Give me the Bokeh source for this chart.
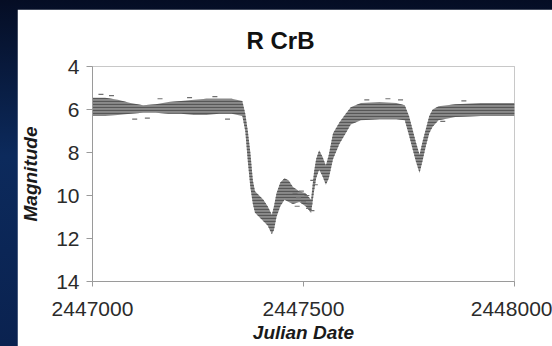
from bokeh.plotting import figure
from bokeh.models import Range1d, FixedTicker, ColumnDataSource
from bokeh.layouts import column
from bokeh.embed import file_html
from bokeh.resources import INLINE

# ---- data ----
title_text = "R CrB"
x_label = "Julian Date"
y_label = "Magnitude"
x_ticks = [2447000, 2447500, 2448000]
x_tick_labels = ["2447000", "2447500", "2448000"]
y_ticks = [4, 6, 8, 10, 12, 14]

# Julian date and bright / faint edge of the band of observations
jd = [2447000, 2447030, 2447060, 2447090, 2447120, 2447150, 2447180, 2447210,
      2447240, 2447270, 2447300, 2447330, 2447355, 2447362, 2447368, 2447374,
      2447380, 2447385, 2447395, 2447405, 2447415, 2447425, 2447430, 2447436,
      2447445, 2447455, 2447465, 2447475, 2447490, 2447505, 2447518, 2447525,
      2447530, 2447537, 2447545, 2447553, 2447560, 2447570, 2447585, 2447600,
      2447612, 2447636, 2447680, 2447720, 2447740, 2447750, 2447758, 2447766,
      2447775, 2447782, 2447790, 2447798, 2447806, 2447820, 2447860, 2447920,
      2447960, 2448000]
mag_bright = [5.45, 5.45, 5.55, 5.7, 5.8, 5.75, 5.65, 5.6,
              5.55, 5.5, 5.5, 5.5, 5.6, 6.2, 7.0, 8.0,
              9.3, 9.8, 10.0, 10.2, 10.5, 10.9, 10.5, 9.9,
              9.4, 9.2, 9.3, 9.6, 9.8, 9.9, 10.2, 8.9,
              8.3, 7.9, 8.2, 8.6, 8.1, 7.1, 6.6, 6.2,
              5.9, 5.7, 5.65, 5.7, 5.8, 6.3, 6.9, 7.5,
              8.1, 7.5, 6.9, 6.3, 6.0, 5.85, 5.75, 5.7,
              5.7, 5.7]
mag_faint = [6.3, 6.3, 6.25, 6.2, 6.15, 6.15, 6.2, 6.2,
             6.25, 6.25, 6.2, 6.2, 6.3, 7.0, 8.4, 9.6,
             10.4, 10.8, 11.0, 11.2, 11.4, 11.8, 11.6, 11.0,
             10.5, 10.2, 10.3, 10.4, 10.3, 10.5, 10.8, 9.8,
             9.2, 8.8, 9.1, 9.5, 9.2, 8.3, 7.6, 7.1,
             6.7, 6.5, 6.45, 6.45, 6.5, 7.2, 7.8, 8.4,
             8.95, 8.4, 7.7, 7.1, 6.8, 6.5, 6.35, 6.3,
             6.3, 6.3]

# scattered single observations outside the main band
stray_jd = [2447020, 2447045, 2447100, 2447130, 2447160, 2447230, 2447290, 2447320,
            2447480, 2447485, 2447488, 2447495, 2447500, 2447508, 2447512, 2447515,
            2447520, 2447522, 2447528, 2447650, 2447700, 2447730, 2447830, 2447880]
stray_mag = [5.3, 5.35, 6.45, 6.4, 5.5, 5.45, 5.4, 6.45,
             9.9, 10.5, 10.1, 9.8, 10.3, 10.0, 10.6, 10.4,
             10.7, 9.3, 9.5, 5.55, 5.5, 5.55, 6.55, 5.6]

FONT = "Liberation Sans"
TXT = "#2b2b2b"

p = figure(width=535, height=337, output_backend="svg", toolbar_location=None,
           x_range=Range1d(2447000, 2448000), y_range=Range1d(14, 4),
           min_border_left=74, min_border_right=38, min_border_top=57,
           min_border_bottom=65, background_fill_color="white",
           border_fill_color="white", outline_line_color="#c8c8c8")

band = ColumnDataSource(dict(jd=jd, top=mag_bright, bot=mag_faint))
p.varea(x="jd", y1="top", y2="bot", source=band, fill_color="#848484",
        fill_alpha=0.95, hatch_pattern="horizontal_line", hatch_color="#4a4a4a",
        hatch_scale=3, hatch_weight=1.2, hatch_alpha=0.8)
p.dash(stray_jd, stray_mag, size=5, line_color="#707070", line_width=1.2)

p.grid.visible = False

p.title.text = title_text
p.title.align = "left"
p.title.offset = 154
p.title.standoff = 26
p.title.text_font = FONT
p.title.text_font_size = "24px"
p.title.text_font_style = "bold"
p.title.text_color = "#111111"

for ax in (p.xaxis, p.yaxis):
    ax.axis_line_color = "#9a9a9a"
    ax.major_tick_line_color = "#9a9a9a"
    ax.minor_tick_line_color = None
    ax.major_tick_in = 0
    ax.major_label_text_font = FONT
    ax.major_label_text_font_size = "21px"
    ax.major_label_text_color = TXT
    ax.axis_label_text_font = FONT
    ax.axis_label_text_font_size = "19px"
    ax.axis_label_text_font_style = "bold italic"
    ax.axis_label_text_color = "#1a1a1a"

p.xaxis.ticker = FixedTicker(ticks=x_ticks)
p.xaxis.major_label_overrides = {t: s for t, s in zip(x_ticks, x_tick_labels)}
p.xaxis.major_tick_out = 5
p.xaxis.major_label_standoff = 15
p.xaxis.axis_label = x_label
p.xaxis.axis_label_standoff = 3

p.yaxis.ticker = FixedTicker(ticks=y_ticks)
p.yaxis.major_tick_out = 6
p.yaxis.major_label_standoff = 7
p.yaxis.axis_label = y_label
p.yaxis.axis_label_standoff = 12

layout = column(p, styles={
    "padding-left": "17px", "padding-top": "9px",
    "background": "linear-gradient(180deg, #050d24 0%, #0c2a5c 45%, #0a2250 100%)",
})

open("out.html", "w").write(file_html(layout, INLINE))
